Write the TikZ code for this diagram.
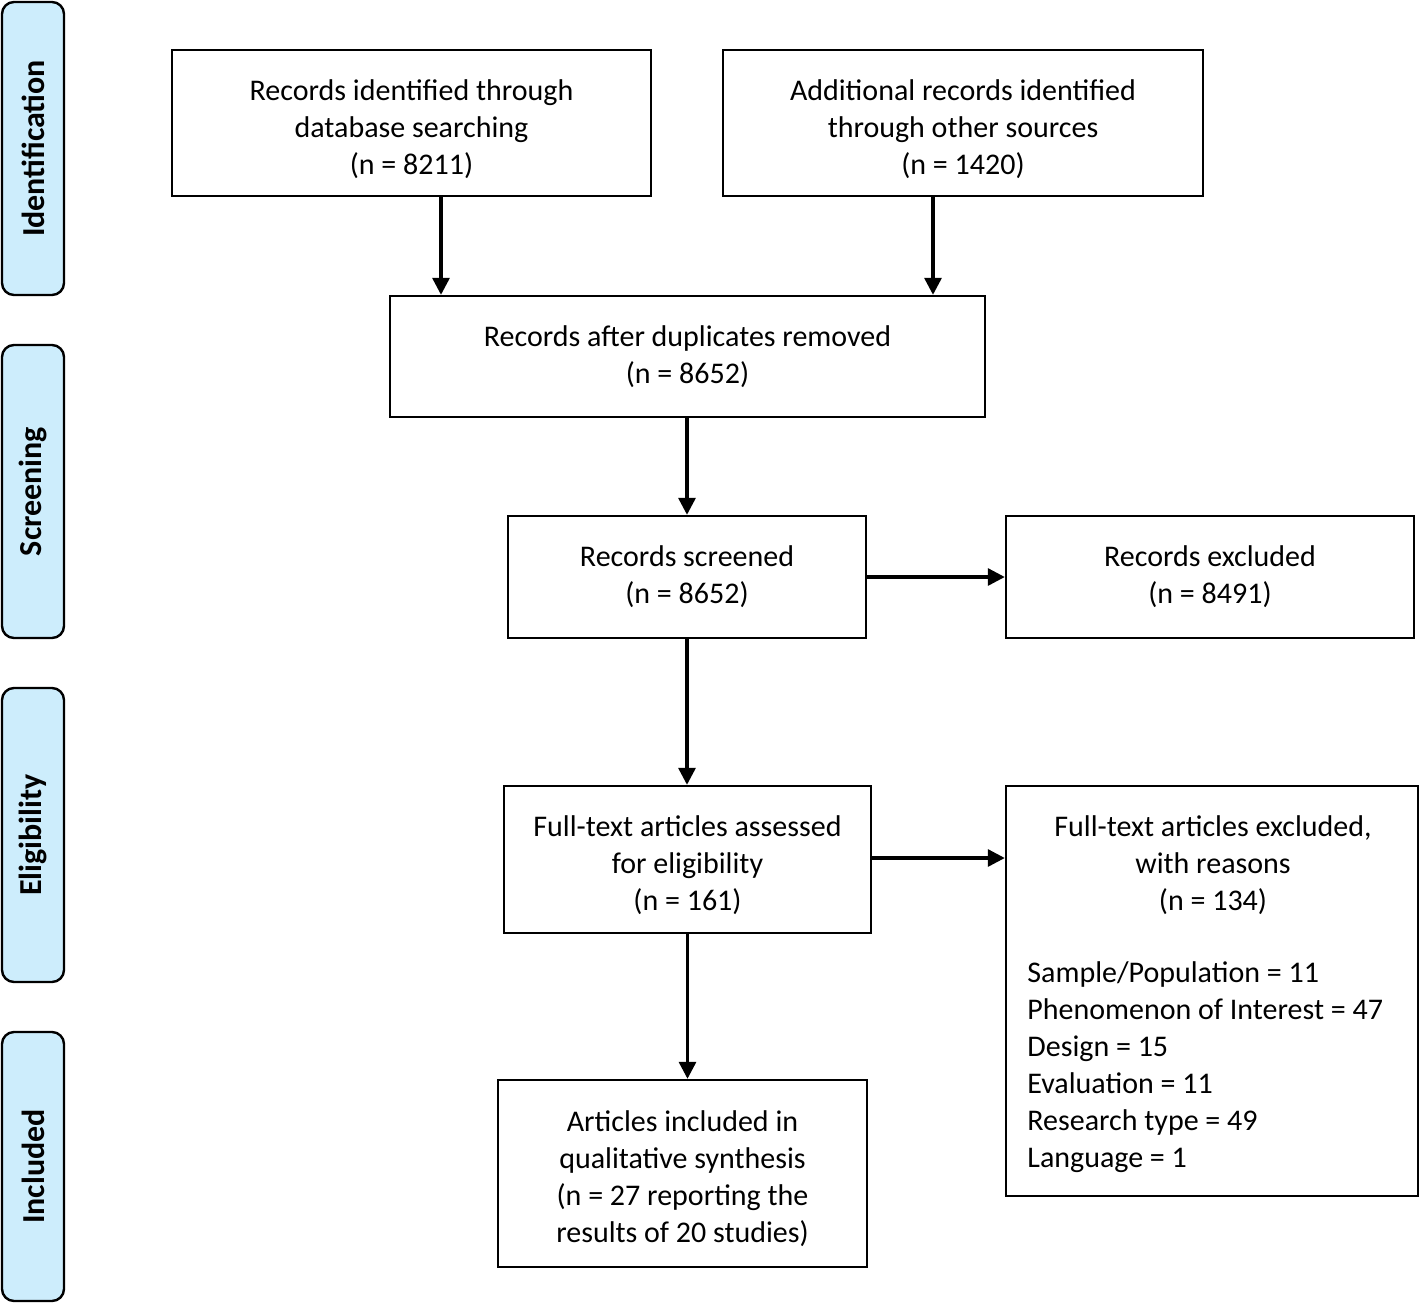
\documentclass[tikz,border=0pt]{standalone}
\usepackage{fontspec}
\setmainfont{Carlito}
\usetikzlibrary{arrows.meta}
\definecolor{sidefill}{HTML}{CDEDFC}
\begin{document}
\begin{tikzpicture}[x=0.5pt,y=-0.5pt,
  box/.style={draw=black, line width=1.2pt, align=center, inner sep=0pt,
    font=\fontsize{15pt}{18.5pt}\selectfont},
  side/.style={draw=black, line width=1.2pt, fill=sidefill, rounded corners=6pt,
    minimum width=31pt, inner sep=0pt},
  sidetext/.style={rotate=90, font=\fontsize{16pt}{18pt}\selectfont\bfseries},
  arr/.style={line width=1.6pt, -{Triangle[length=8.5pt,width=8.5pt]}},
  txt/.style={align=center, inner sep=0pt, font=\fontsize{15pt}{18.5pt}\selectfont}]
\useasboundingbox (0,0) rectangle (1420,1303);
% side bars
\node[side, minimum height=146.5pt] (s1) at (33,148.5) {};
\node[sidetext] (s1t) at (s1.center) {Identification};
\node[side, minimum height=146.5pt] (s2) at (33,491.5) {};
\node[sidetext] (s2t) at (s2.center) {Screening};
\node[side, minimum height=147pt] (s3) at (33,835) {};
\node[sidetext] (s3t) at (s3.center) {Eligibility};
\node[side, minimum height=134.5pt] (s4) at (33,1166.5) {};
\node[sidetext] (s4t) at (s4.center) {Included};
% boxes
\node[box, minimum width=239.5pt, minimum height=73pt] (A) at (411.5,123) {};
\node[txt] (At) at (411.5,129) {Records identified through\\database searching\\(n = 8211)};
\node[box, minimum width=240pt, minimum height=73pt] (B) at (963,123) {};
\node[txt] (Bt) at (963,129) {Additional records identified\\through other sources\\(n = 1420)};
\node[box, minimum width=297.5pt, minimum height=60.5pt] (C) at (687.5,356.5) {Records after duplicates removed\\(n = 8652)};
\node[box, minimum width=179pt, minimum height=61pt] (D) at (687,577) {Records screened\\(n = 8652)};
\node[box, minimum width=204pt, minimum height=61pt] (E) at (1210,577) {Records excluded\\(n = 8491)};
\node[box, minimum width=183.5pt, minimum height=73.5pt] (F) at (687.5,859.5) {};
\node[txt] (Ft) at (687.5,865.5) {Full-text articles assessed\\for eligibility\\(n = 161)};
\node[box, minimum width=206pt, minimum height=205pt] (G) at (1212,991) {};
\node[txt] (Gt) at (1213,865) {Full-text articles excluded,\\with reasons\\(n = 134)};
\node[txt, align=left, anchor=north west] (Gl) at (1027,961) {Sample/Population = 11\\Phenomenon of Interest = 47\\Design = 15\\Evaluation = 11\\Research type = 49\\Language = 1};
\node[box, minimum width=184.5pt, minimum height=93.5pt] (H) at (682.5,1173.5) {};
\node[txt] (Ht) at (682.5,1178.5) {Articles included in\\qualitative synthesis\\(n = 27 reporting the\\results of 20 studies)};
% arrows
\draw[arr] ([xshift=14.75pt]A.south) -- ([xshift=14.75pt]A.south |- C.north);
\draw[arr] ([xshift=-15pt]B.south) -- ([xshift=-15pt]B.south |- C.north);
\draw[arr] (C.south -| D.north) -- (D.north);
\draw[arr] (D.east) -- (E.west);
\draw[arr] (D.south) -- (D.south |- F.north);
\draw[arr] ([yshift=0.75pt]F.east) -- ([yshift=0.75pt]F.east -| G.west);
\draw[arr] (F.south) -- (F.south |- H.north);
\end{tikzpicture}
\end{document}
